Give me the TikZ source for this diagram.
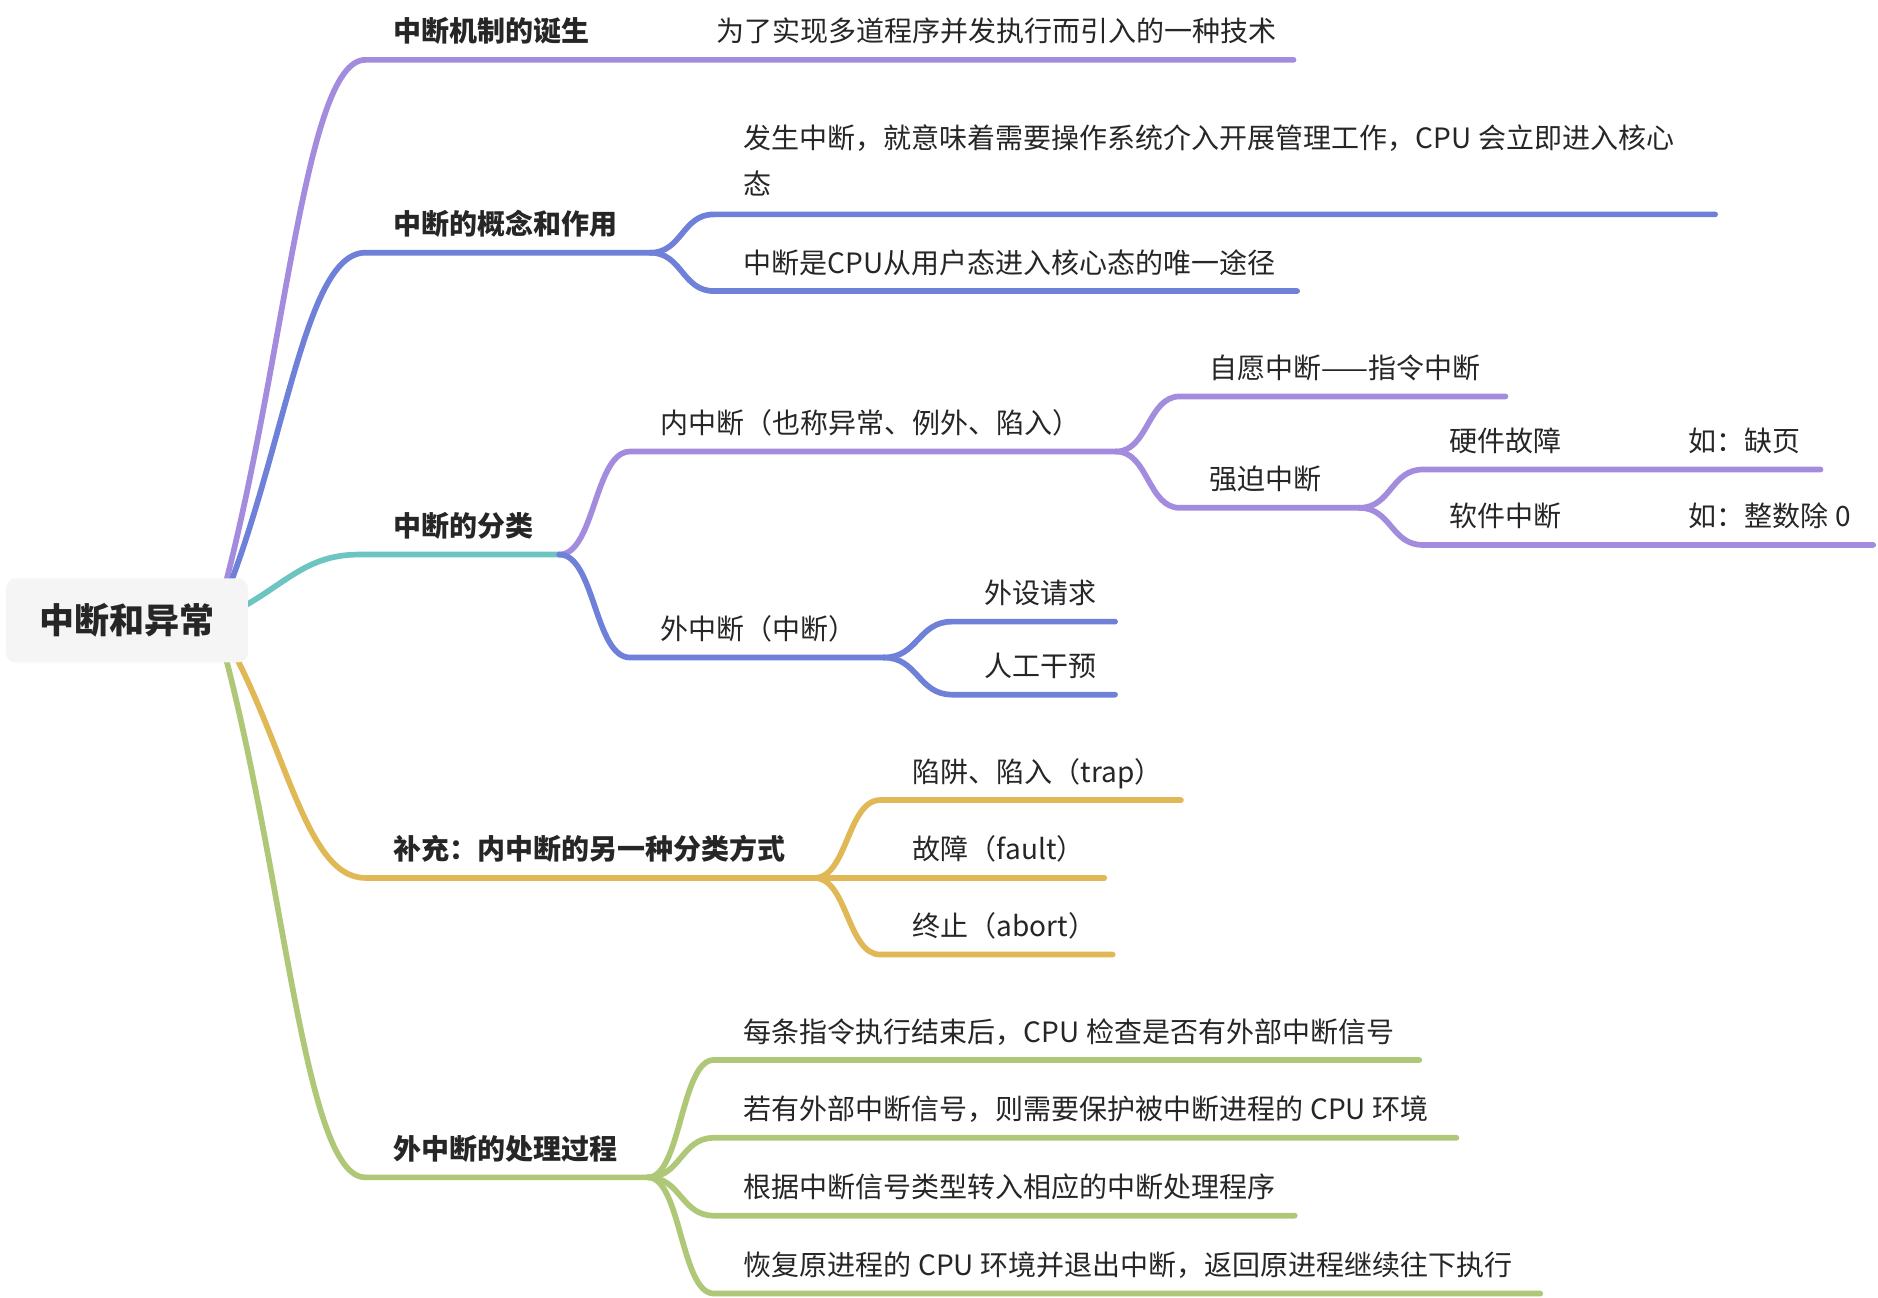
\documentclass[tikz,border=0pt]{standalone}
\usepackage{fontspec}
\setmainfont{Noto Sans CJK SC}
\definecolor{cpurple}{HTML}{A38BDD}
\definecolor{cblue}{HTML}{6E80D8}
\definecolor{cteal}{HTML}{6CC5C0}
\definecolor{cyellow}{HTML}{E0B855}
\definecolor{cgreen}{HTML}{AFC878}
\definecolor{ctext}{HTML}{262626}
\definecolor{rootfill}{HTML}{F5F5F5}
\tikzset{
  br/.style={line width=5.7pt, line cap=round, line join=round},
  lbl/.style={anchor=base west, inner sep=0pt, text=ctext, font=\fontsize{28}{34}\selectfont},
  blbl/.style={lbl, font=\fontsize{28}{34}\selectfont\bfseries},
  rootbox/.style={fill=rootfill, rounded corners=10pt, minimum width=242pt, minimum height=84pt, inner sep=0pt, text=ctext, font=\fontsize{35}{40}\selectfont\bfseries}
}
\begin{document}
\begin{tikzpicture}[x=1.1977pt, y=-1.1977pt]
\useasboundingbox (0,0) rectangle (1568,1083.7);
\fill[white] (0,0) rectangle (1568,1083.7);

% ---------- coordinates ----------
\coordinate (r0) at (180,518);
% purple top
\coordinate (a1) at (305,50);   \coordinate (a1e) at (1080,50);
% blue
\coordinate (b1) at (305,211);  \coordinate (bf) at (543,211);
\coordinate (b11) at (596,179); \coordinate (b11e) at (1432,179);
\coordinate (b12) at (596,243); \coordinate (b12e) at (1083,243);
% teal
\coordinate (t1) at (300,463);  \coordinate (tf) at (467,463);
\coordinate (p1) at (526,377);  \coordinate (pf) at (932,377);
\coordinate (p11) at (985,331); \coordinate (p11e) at (1257,331);
\coordinate (p12) at (985,424); \coordinate (p12f) at (1135,424);
\coordinate (p121) at (1188,392); \coordinate (p121e) at (1520,392);
\coordinate (p122) at (1188,455); \coordinate (p122e) at (1564,455);
\coordinate (q1) at (526,549);  \coordinate (qf) at (738,549);
\coordinate (q11) at (795,519); \coordinate (q11e) at (931,519);
\coordinate (q12) at (795,580); \coordinate (q12e) at (931,580);
% yellow
\coordinate (y1) at (305,733);  \coordinate (yf) at (680,733);
\coordinate (y11) at (735,668); \coordinate (y11e) at (986,668);
\coordinate (y12e) at (922,733);
\coordinate (y13) at (735,797); \coordinate (y13e) at (929,797);
% green
\coordinate (g1) at (305,983);  \coordinate (gf) at (541,983);
\coordinate (g11) at (596,885);  \coordinate (g11e) at (1185,885);
\coordinate (g12) at (596,950);  \coordinate (g12e) at (1216,950);
\coordinate (g13) at (596,1015); \coordinate (g13e) at (1081,1015);
\coordinate (g14) at (596,1080); \coordinate (g14e) at (1286,1080);

% ---------- main branches ----------
\draw[br,cpurple] (r0) .. controls (237.5,316.8) and (252.5,50) .. (a1) -- (a1e);
\draw[br,cblue]   (r0) .. controls (237.5,386) and (252.5,211) .. (b1) -- (bf);
\draw[br,cteal]   (r0) .. controls (235,494.4) and (249.6,463) .. (t1) -- (tf);
\draw[br,cyellow] (r0) .. controls (237.5,610.5) and (252.5,733) .. (y1) -- (yf);
\draw[br,cgreen]  (r0) .. controls (237.5,718) and (252.5,983) .. (g1) -- (gf);

% ---------- blue children ----------
\draw[br,cblue] (bf) .. controls (569.5,211) and (569.5,179) .. (b11) -- (b11e);
\draw[br,cblue] (bf) .. controls (569.5,211) and (569.5,243) .. (b12) -- (b12e);

% ---------- classification ----------
\draw[br,cpurple] (tf) .. controls (496.5,463) and (496.5,377) .. (p1) -- (pf);
\draw[br,cblue]   (tf) .. controls (496.5,463) and (496.5,549) .. (q1) -- (qf);
\draw[br,cpurple] (pf) .. controls (958.5,377) and (958.5,331) .. (p11) -- (p11e);
\draw[br,cpurple] (pf) .. controls (958.5,377) and (958.5,424) .. (p12) -- (p12f);
\draw[br,cpurple] (p12f) .. controls (1161.5,424) and (1161.5,392) .. (p121) -- (p121e);
\draw[br,cpurple] (p12f) .. controls (1161.5,424) and (1161.5,455) .. (p122) -- (p122e);
\draw[br,cblue] (qf) .. controls (766.5,549) and (766.5,519) .. (q11) -- (q11e);
\draw[br,cblue] (qf) .. controls (766.5,549) and (766.5,580) .. (q12) -- (q12e);

% ---------- yellow children ----------
\draw[br,cyellow] (yf) .. controls (707.5,733) and (707.5,668) .. (y11) -- (y11e);
\draw[br,cyellow] (yf) -- (y12e);
\draw[br,cyellow] (yf) .. controls (707.5,733) and (707.5,797) .. (y13) -- (y13e);

% ---------- green children ----------
\draw[br,cgreen] (gf) .. controls (568.5,983) and (568.5,885) .. (g11) -- (g11e);
\draw[br,cgreen] (gf) .. controls (568.5,983) and (568.5,950) .. (g12) -- (g12e);
\draw[br,cgreen] (gf) .. controls (568.5,983) and (568.5,1015) .. (g13) -- (g13e);
\draw[br,cgreen] (gf) .. controls (568.5,983) and (568.5,1080) .. (g14) -- (g14e);

% ---------- root ----------
\node[rootbox] (root) at (106,518) {中断和异常};

% ---------- labels ----------
\node[blbl] (l1) at (328,35) {中断机制的诞生};
\node[lbl] (l11) at (598,35) {为了实现多道程序并发执行而引入的一种技术};
\node[blbl] (l2) at (328,196) {中断的概念和作用};
\node[lbl] (l21a) at (621,124) {发生中断，就意味着需要操作系统介入开展管理工作，CPU 会立即进入核心};
\node[lbl] (l21b) at (621,162) {态};
\node[lbl] (l22) at (621,228) {中断是CPU从用户态进入核心态的唯一途径};
\node[blbl] (l3) at (328,448) {中断的分类};
\node[lbl] (l31) at (551,362) {内中断（也称异常、例外、陷入）};
\node[lbl] (l311) at (1010,316) {自愿中断——指令中断};
\node[lbl] (l312) at (1010,409) {强迫中断};
\node[lbl] (l3121) at (1210,377) {硬件故障};
\node[lbl] (l3121x) at (1410,377) {如：缺页};
\node[lbl] (l3122) at (1210,440) {软件中断};
\node[lbl] (l3122x) at (1410,440) {如：整数除 0};
\node[lbl] (l32) at (551,534) {外中断（中断）};
\node[lbl] (l321) at (822,504) {外设请求};
\node[lbl] (l322) at (822,565) {人工干预};
\node[blbl] (l4) at (328,718) {补充：内中断的另一种分类方式};
\node[lbl] (l41) at (762,653) {陷阱、陷入（trap）};
\node[lbl] (l42) at (762,718) {故障（fault）};
\node[lbl] (l43) at (762,782) {终止（abort）};
\node[blbl] (l5) at (328,968) {外中断的处理过程};
\node[lbl] (l51) at (621,870) {每条指令执行结束后，CPU 检查是否有外部中断信号};
\node[lbl] (l52) at (621,935) {若有外部中断信号，则需要保护被中断进程的 CPU 环境};
\node[lbl] (l53) at (621,1000) {根据中断信号类型转入相应的中断处理程序};
\node[lbl] (l54) at (621,1065) {恢复原进程的 CPU 环境并退出中断，返回原进程继续往下执行};
\end{tikzpicture}
\end{document}
